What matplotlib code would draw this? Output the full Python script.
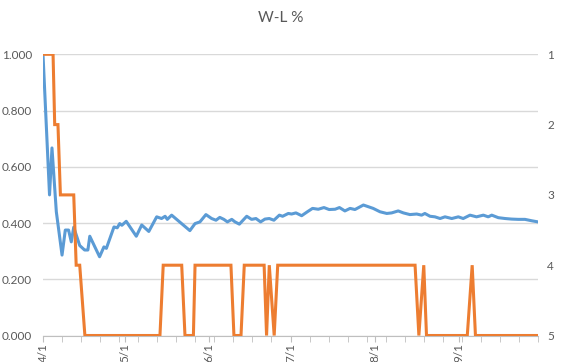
import datetime as dt
import matplotlib
matplotlib.use("Agg")
import matplotlib.pyplot as plt
from matplotlib.ticker import FixedLocator, FuncFormatter

# ---- data (x = days since 4/1) ----
start = dt.date(2019, 4, 1)
end_day = 182  # 9/30

blue_days = [0, 2.4, 3.3, 4.9, 7, 8.2, 9.4, 10.4, 11.3, 13.5, 15.3, 16.5, 17.2, 20.8,
             22.4, 23.3, 26.1, 27.3, 28.2, 29, 30.6, 34.3, 36.3, 38.9, 41.8, 43.6, 44.9,
             45.7, 47.3, 54, 55.9, 57.7, 59.9, 62, 63.6, 65, 66.5, 67.8, 69.4, 70.6,
             72.2, 74.9, 76.7, 78.3, 80, 81.6, 83.2, 84.9, 86.9, 88.1, 90.2, 91.4, 93,
             95.1, 97.2, 99.1, 101.2, 103.3, 105.2, 107.4, 109, 111, 112.9, 114.7, 117.8,
             119.6, 121.4, 123.9, 126.4, 128.2, 130.6, 132.5, 134.9, 137.4, 139.2, 140.4,
             142.3, 144.1, 146, 147.8, 150.3, 152.7, 154.5, 157, 159.4, 161.9, 163.7, 165,
             167.4, 169.9, 172.3, 174.7, 177.2, 179.7, 182]
wl_pct = [1.000, 0.500, 0.667, 0.440, 0.286, 0.375, 0.375, 0.333, 0.385, 0.320, 0.304,
          0.304, 0.353, 0.280, 0.315, 0.310, 0.386, 0.383, 0.398, 0.392, 0.406, 0.353,
          0.393, 0.370, 0.422, 0.416, 0.424, 0.413, 0.428, 0.373, 0.398, 0.404, 0.430,
          0.416, 0.410, 0.420, 0.413, 0.404, 0.413, 0.404, 0.396, 0.424, 0.413, 0.416,
          0.404, 0.414, 0.416, 0.410, 0.428, 0.424, 0.434, 0.432, 0.436, 0.426, 0.440,
          0.452, 0.449, 0.455, 0.448, 0.449, 0.455, 0.443, 0.452, 0.448, 0.464, 0.458,
          0.452, 0.440, 0.434, 0.436, 0.443, 0.436, 0.430, 0.432, 0.428, 0.434, 0.424,
          0.422, 0.416, 0.422, 0.416, 0.422, 0.416, 0.428, 0.422, 0.428, 0.422, 0.428,
          0.419, 0.416, 0.414, 0.413, 0.413, 0.408, 0.404]

rank_days = [0, 3.7, 4.3, 5.5, 6.4, 11.3, 12.2, 13.5, 15.4, 43, 44.2, 51, 52.2, 55.3,
             55.9, 69.1, 70.2, 72.8, 74, 81.3, 82.2, 83.2, 85, 86.3, 136.8, 138.2, 140,
             141, 156, 157.8, 159, 182]
rank = [1, 1, 2, 2, 3, 3, 4, 4, 5, 5, 4, 4, 5, 5, 4, 4, 5, 5, 4, 4, 5, 4, 5, 4, 4, 5,
        4, 5, 5, 4, 5, 5]

month_labels = ["4/1", "5/1", "6/1", "7/1", "8/1", "9/1"]
month_dates = [dt.date(2019, m, 1) for m in range(4, 10)]
left_ticks = [0.0, 0.2, 0.4, 0.6, 0.8, 1.0]
right_ticks = [1, 2, 3, 4, 5]
title = "W-L %"

# ---- style ----
txt = "#595959"
grid = "#D9D9D9"
axis_c = "#BFBFBF"
blue = "#5B9BD5"
orange = "#ED7D31"
plt.rcParams["font.family"] = ["Lato", "DejaVu Sans"]

fig = plt.figure(figsize=(5.61, 3.62), dpi=100)
ax = fig.add_axes([43 / 561, 1 - 335.5 / 362, (538 - 43) / 561, (335.5 - 54.3) / 362])
ax.set_xlim(0, end_day)
ax.set_ylim(0, 1)

ax.plot(blue_days, wl_pct, color=blue, lw=2.2, solid_joinstyle="round", zorder=3)

ax.yaxis.set_major_locator(FixedLocator(left_ticks))
ax.yaxis.set_major_formatter(FuncFormatter(lambda v, p: f"{v:.3f}"))
ax.grid(axis="y", color=grid, lw=1)
ax.set_axisbelow(True)
for s in ["left", "right", "top"]:
    ax.spines[s].set_visible(False)
ax.spines["bottom"].set_color(axis_c)
ax.tick_params(axis="y", length=0, labelsize=8.5, labelcolor=txt, pad=8)

month_pos = [(d - start).days for d in month_dates]
ax.set_xticks(month_pos)
ax.set_xticklabels(month_labels, rotation=90)
ax.set_xticks(list(range(0, end_day + 1, 7)), minor=True)
ax.tick_params(axis="x", which="both", length=4, color=axis_c, labelsize=8.5,
               labelcolor=txt, direction="out", pad=1.5)

ax2 = ax.twinx()
ax2.set_ylim(5, 1)
ax2.plot(rank_days, rank, color=orange, lw=2.2, solid_joinstyle="miter", zorder=4)
ax2.set_yticks(right_ticks)
for s in ["left", "right", "top", "bottom"]:
    ax2.spines[s].set_visible(False)
ax2.tick_params(axis="y", length=0, labelsize=8.5, labelcolor=txt, pad=6.5)

fig.text(0.5, 1 - 18 / 362, title, ha="center", va="center", fontsize=11, color=txt)

fig.savefig("out.png", dpi=100)
